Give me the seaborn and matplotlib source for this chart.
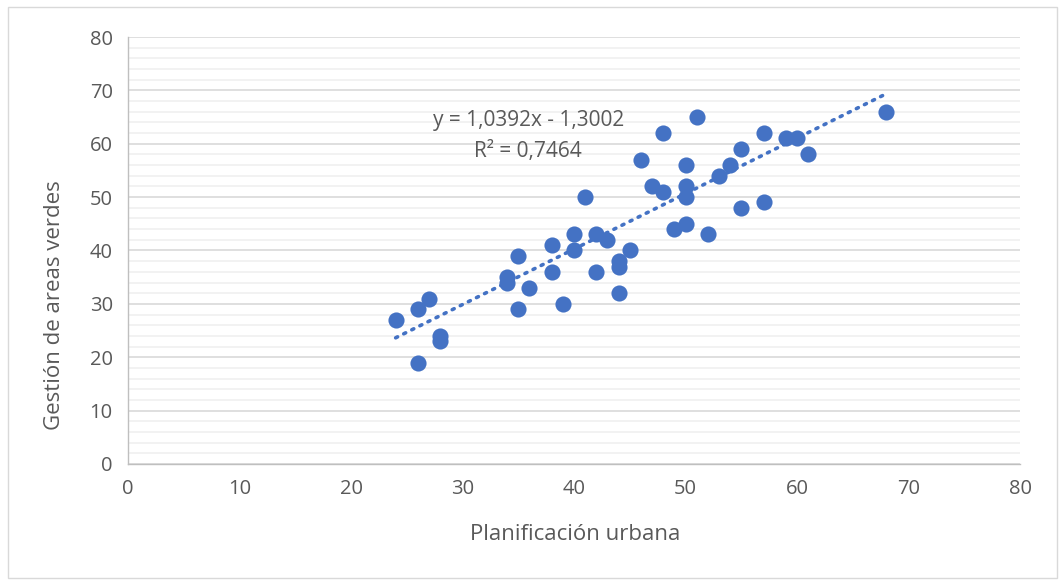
import numpy as np
import pandas as pd
import matplotlib.pyplot as plt
import seaborn as sns
from matplotlib.patches import Rectangle
from matplotlib.ticker import MultipleLocator

# Puntajes
planificacion = [24, 26, 26, 27, 28, 28, 34, 34, 35, 35, 36, 38, 38, 39, 40,
                 40, 41, 42, 42, 43, 44, 44, 44, 45, 46, 47, 48, 48, 49, 50,
                 50, 50, 50, 51, 52, 53, 54, 55, 55, 57, 57, 59, 60, 61, 68]
areas_verdes = [27, 29, 19, 31, 24, 23, 35, 34, 39, 29, 33, 41, 36, 30, 43,
                40, 50, 43, 36, 42, 38, 37, 32, 40, 57, 52, 62, 51, 44, 56,
                52, 50, 45, 65, 43, 54, 56, 59, 48, 62, 49, 61, 61, 58, 66]

# Linea de tendencia (de la etiqueta del grafico)
pendiente = 1.0392
intercepto = -1.3002
ecuacion = "y = 1,0392x - 1,3002"
r2 = "R² = 0,7464"

df = pd.DataFrame({"x": planificacion, "y": areas_verdes})
xs = np.array([min(planificacion), max(planificacion)])
tend = pd.DataFrame({"x": xs, "y": pendiente * xs + intercepto})

sns.set_style("white")
plt.rcParams["font.family"] = ["Open Sans", "DejaVu Sans"]

blue = "#4472C4"
grey_txt = "#595959"

fig = plt.figure(figsize=(10.6, 5.81), dpi=100)
ax = fig.add_axes([0.1208, 0.2014, 0.8415, 0.7349])

sns.lineplot(data=tend, x="x", y="y", ax=ax, color=blue, linewidth=2.6,
             linestyle=(0, (0.6, 1.9)), dash_capstyle="round", zorder=2)
sns.scatterplot(data=df, x="x", y="y", ax=ax, color=blue, s=135,
                linewidth=0, alpha=1, zorder=3)

ax.set_xlim(0, 80)
ax.set_ylim(0, 80)
ax.xaxis.set_major_locator(MultipleLocator(10))
ax.yaxis.set_major_locator(MultipleLocator(10))
ax.yaxis.set_minor_locator(MultipleLocator(2))

ax.grid(axis="y", which="major", color="#d9d9d9", linewidth=1.2)
ax.grid(axis="y", which="minor", color="#f0f0f0", linewidth=1.2)
ax.grid(axis="x", visible=False)
ax.set_axisbelow(True)

for side in ["top", "right"]:
    ax.spines[side].set_visible(False)
for side in ["left", "bottom"]:
    ax.spines[side].set_color("#bfbfbf")
    ax.spines[side].set_linewidth(1)

ax.tick_params(axis="both", which="major", direction="out", length=6,
               color="#bfbfbf", labelsize=14.5, labelcolor=grey_txt, pad=5)
ax.tick_params(axis="y", which="minor", length=0)

ax.set_xlabel("Planificación urbana", fontsize=16, color=grey_txt, va="center")
ax.set_ylabel("Gestión de areas verdes", fontsize=16, color=grey_txt, va="center")
ax.xaxis.set_label_coords(0.501, -0.166)
ax.yaxis.set_label_coords(-0.082, 0.372)

ax.text(35.9, 64.3, ecuacion, ha="center", va="center", fontsize=15, color=grey_txt)
ax.text(35.9, 58.6, r2, ha="center", va="center", fontsize=15, color=grey_txt)

fig.patches.append(Rectangle((0.0075, 0.005), 0.99, 0.983, transform=fig.transFigure,
                             fill=False, edgecolor="#d9d9d9", linewidth=1))

fig.savefig("out.png", dpi=100)
plt.close(fig)
